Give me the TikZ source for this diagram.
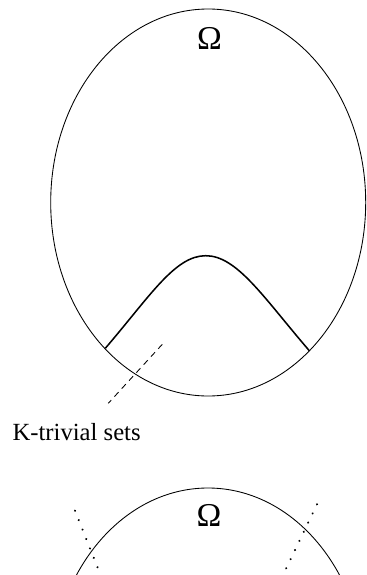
\documentclass[tikz,border=0pt]{standalone}
\usepackage{fontspec}
\setmainfont{Liberation Serif}
\newfontfamily\timesx{Liberation Serif}
\begin{document}
\begin{tikzpicture}[x=0.75pt,y=-0.75pt,
  thinline/.style={line width=0.65pt},
  humpline/.style={line width=1.15pt},
  dashline/.style={line width=0.65pt,dash pattern=on 4.5pt off 3.6pt},
  dotline/.style={line width=1.7pt,line cap=round,dash pattern=on 0.01pt off 7.6pt},
  omegalabel/.style={font=\timesx\fontsize{25}{25}\selectfont,inner sep=0pt},
  textlabel/.style={font=\timesx\fontsize{18.5}{20}\selectfont,inner sep=0pt,anchor=base west}]
\useasboundingbox (0,0) rectangle (367,575);
% top ellipse
\draw[thinline] (208.2,202.5) ellipse [x radius=157.5, y radius=193.5];
\node[omegalabel] (om1) at (209.5,38.5) {Ω};
% hump
\coordinate (hl) at (105.3,348.3);
\coordinate (hp) at (205.7,255.7);
\coordinate (hr) at (309.3,350.7);
\draw[humpline] (hl) .. controls (150.3,295.8) and (175,255.7) .. (hp)
  .. controls (237,255.7) and (263.3,297.2) .. (hr);
% dashed pointer
\coordinate (d1) at (162.3,344.3);
\coordinate (d2) at (108.3,403.3);
\draw[dashline] (d1) -- (d2);
\node[textlabel] (kt) at (12.3,440) {K-trivial sets};
% bottom ellipse (clipped)
\begin{scope}
\clip (0,0) rectangle (367,575);
\draw[thinline] (208,681.5) ellipse [x radius=157.5, y radius=193.5];
\coordinate (l1) at (75,510.7);
\coordinate (l2) at (101,576);
\coordinate (r1) at (317,504.3);
\coordinate (r2) at (282.5,576);
\draw[dotline] (l1) -- (l2);
\draw[dotline] (r1) -- (r2);
\end{scope}
\node[omegalabel] (om2) at (209,515) {Ω};
\end{tikzpicture}
\end{document}
